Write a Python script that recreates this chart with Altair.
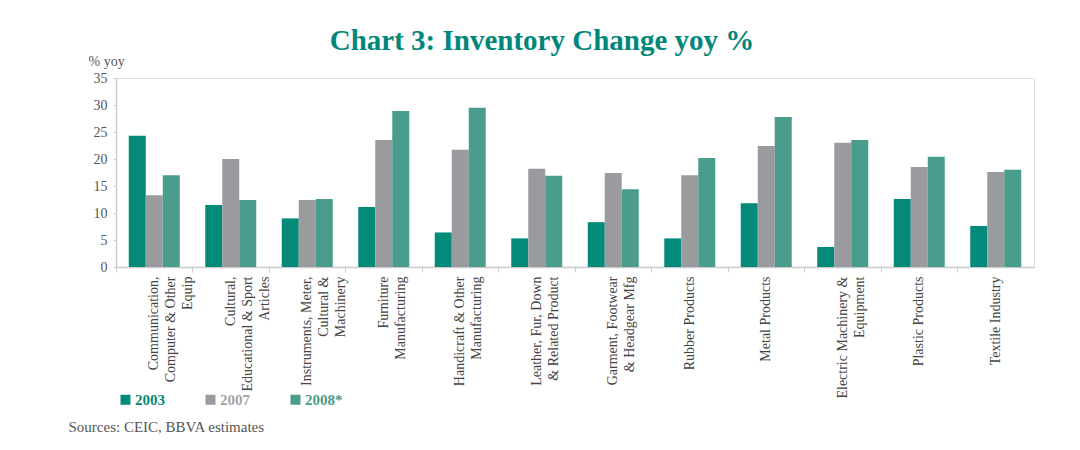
import altair as alt
import pandas as pd

categories = [
    "Communication,|Computer & Other|Equip",
    "Cultural,|Educational & Sport|Articles",
    "Instruments, Meter,|Cultural &|Machinery",
    "Furniture|Manufacturing",
    "Handicraft & Other|Manufacturing",
    "Leather, Fur, Down|& Related Product",
    "Garment, Footwear|& Headgear Mfg",
    "Rubber Products",
    "Metal Products",
    "Electric Machinery &|Equipment",
    "Plastic Products",
    "Textile Industry",
]
series = ["2003", "2007", "2008*"]
v2003 = [24.3, 11.5, 9.0, 11.1, 6.4, 5.3, 8.3, 5.3, 11.8, 3.7, 12.6, 7.6]
v2007 = [13.3, 20.0, 12.4, 23.5, 21.7, 18.2, 17.4, 17.0, 22.4, 23.0, 18.5, 17.6]
v2008 = [17.0, 12.4, 12.6, 28.9, 29.5, 16.9, 14.4, 20.2, 27.8, 23.5, 20.4, 18.0]
colors = ["#038a78", "#9a9b9f", "#4a9c8c"]

rows = []
for vals, s in zip([v2003, v2007, v2008], series):
    for c, v in zip(categories, vals):
        rows.append({"cat": c, "series": s, "value": v})
df = pd.DataFrame(rows)

serif = "Liberation Serif"

chart = (
    alt.Chart(df)
    .mark_bar()
    .encode(
        x=alt.X(
            "cat:N",
            sort=categories,
            scale=alt.Scale(paddingInner=0, paddingOuter=0),
            axis=alt.Axis(
                title="Sources: CEIC, BBVA estimates",
                titleX=-48,
                titleY=164,
                titleAlign="left",
                titleBaseline="alphabetic",
                titleFont=serif,
                titleFontSize=15,
                titleFontWeight="normal",
                titleColor="#555555",
                labelExpr="split(datum.label, '|')",
                labelAngle=-90,
                labelAlign="right",
                labelBaseline="middle",
                labelFont=serif,
                labelFontSize=14,
                labelLineHeight=17,
                labelColor="#444444",
                labelPadding=4,
                labelLimit=200,
                bandPosition=0,
                ticks=True,
                tickSize=5,
                tickColor="#cccccc",
                domainColor="#cccccc",
                domainWidth=1.5,
            ),
        ),
        xOffset=alt.XOffset(
            "series:N",
            sort=series,
            scale=alt.Scale(paddingInner=0, paddingOuter=0.75),
        ),
        y=alt.Y(
            "value:Q",
            scale=alt.Scale(domain=[0, 35], nice=False),
            axis=alt.Axis(
                values=[0, 5, 10, 15, 20, 25, 30, 35],
                grid=False,
                title="% yoy",
                titleAngle=0,
                titleX=-28,
                titleY=-13,
                titleAlign="left",
                titleBaseline="alphabetic",
                titleFont=serif,
                titleFontSize=14,
                titleFontWeight="normal",
                titleColor="#555555",
                labelFont=serif,
                labelFontSize=14,
                labelColor="#555555",
                labelPadding=6,
                tickSize=3,
                tickColor="#cccccc",
                domainColor="#cccccc",
                domainWidth=1.5,
            ),
        ),
        color=alt.Color(
            "series:N",
            sort=series,
            scale=alt.Scale(domain=series, range=colors),
            legend=alt.Legend(
                title=None,
                orient="none",
                direction="horizontal",
                legendX=2,
                legendY=314,
                symbolType="square",
                symbolSize=100,
                symbolStrokeWidth=0,
                symbolOpacity=1,
                labelFont=serif,
                labelFontSize=15,
                labelFontWeight="bold",
                labelColor=alt.ExprRef(
                    "datum.value == '2003' ? '#038a78' : (datum.value == '2007' ? '#a3a3a6' : '#4a9c8c')"
                ),
                columnPadding=38,
                labelOffset=2,
            ),
        ),
    )
    .properties(
        width=918,
        height=189,
        padding={"left": 108, "top": 70, "right": 37, "bottom": 175},
        autosize=alt.AutoSizeParams(type="none"),
        title=alt.TitleParams(
            "Chart 3: Inventory Change yoy %",
            font=serif,
            fontSize=29,
            fontWeight="bold",
            color="#00877a",
            anchor="middle",
            frame="group",
            dx=-33,
            offset=-2,
        ),
    )
    .configure_view(stroke="#d6d6d6", strokeWidth=1.5)
    .configure(background="white")
)

chart.save("out.html", embed_options={"renderer": "svg", "actions": False})
